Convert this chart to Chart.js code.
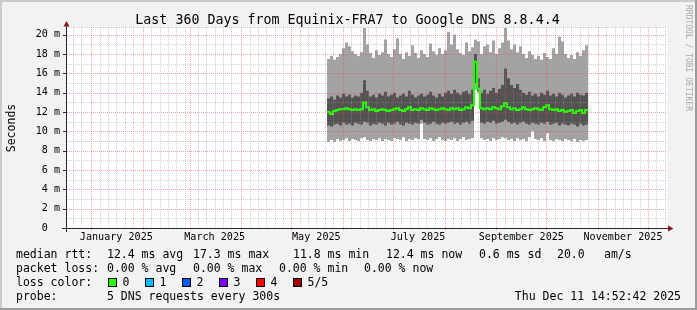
<!DOCTYPE html>
<html>
<head>
<meta charset="utf-8">
<script src="https://cdn.jsdelivr.net/npm/chart.js@4.4.1/dist/chart.umd.min.js"></script>
<style>
  html, body { margin: 0; padding: 0; background: #f2f2f2; }
  canvas { display: block; }
</style>
</head>
<body>
<canvas id="smokeChart" width="697" height="310"></canvas>
<script>
// time is counted in days from 1 Jan 2025, one value per consolidated step
var firstStep = 141.4;
var stepDays = 1.8;

// sorted pings per step: min, 2nd, median, 4th, max (milliseconds)
var pingMin = [
  8.9, 9.1, 8.9, 9.2, 9.0, 9.1, 9.3, 9.0, 9.2, 9.1,
  9.0, 9.3, 9.4, 9.1, 9.0, 9.2, 9.1, 9.3, 9.0, 9.2,
  9.1, 9.0, 9.3, 9.2, 9.1, 9.4, 9.0, 9.2, 9.1, 9.3,
  9.2, 10.8, 9.2, 9.1, 9.3, 9.0, 9.2, 9.4, 9.1, 9.0,
  9.2, 9.1, 9.3, 9.0, 9.2, 9.4, 9.1, 9.2, 9.3, 14.3,
  14.0, 9.3, 9.1, 9.2, 9.0, 9.3, 9.1, 9.2, 9.4, 9.3,
  9.1, 9.2, 9.0, 9.3, 9.1, 9.2, 9.0, 9.4, 10.0, 9.2,
  9.1, 9.3, 9.0, 9.8, 9.1, 9.0, 9.2, 9.1, 9.0, 9.2,
  9.1, 9.0, 9.2, 8.9, 9.1, 9.0, 9.1
];
var pingLow = [
  10.6, 10.5, 10.7, 10.8, 10.6, 10.9, 10.7, 10.8, 10.6, 10.9,
  10.8, 10.7, 11.0, 10.9, 10.6, 10.8, 10.7, 10.9, 10.8, 10.6,
  10.9, 10.7, 10.8, 11.0, 10.7, 10.6, 10.9, 10.8, 10.7, 10.9,
  10.8, 11.2, 10.9, 10.7, 10.8, 11.0, 10.8, 10.7, 10.9, 10.8,
  10.9, 11.0, 10.8, 10.9, 10.7, 10.9, 11.0, 10.8, 11.1, 15.0,
  14.2, 10.9, 10.8, 11.0, 10.9, 11.1, 10.8, 10.9, 11.0, 11.2,
  11.0, 10.8, 10.9, 10.7, 10.9, 11.0, 10.8, 10.7, 10.9, 10.8,
  10.7, 10.9, 10.8, 11.0, 10.7, 10.8, 10.9, 10.6, 10.8, 10.7,
  10.6, 10.8, 10.7, 10.5, 10.8, 10.6, 10.7
];
var medianRtt = [
  12.0, 11.8, 12.1, 12.2, 12.3, 12.3, 12.4, 12.3, 12.2, 12.3,
  12.2, 12.3, 13.0, 12.5, 12.2, 12.3, 12.1, 12.2, 12.3, 12.2,
  12.1, 12.2, 12.3, 12.4, 12.2, 12.1, 12.3, 12.5, 12.2, 12.3,
  12.2, 12.4, 12.3, 12.2, 12.4, 12.3, 12.2, 12.3, 12.4, 12.3,
  12.2, 12.4, 12.3, 12.4, 12.2, 12.3, 12.5, 12.4, 12.7, 17.2,
  14.4, 12.4, 12.3, 12.4, 12.3, 12.5, 12.4, 12.3, 12.6, 12.9,
  12.5, 12.3, 12.4, 12.2, 12.3, 12.5, 12.3, 12.2, 12.3, 12.4,
  12.3, 12.2, 12.5, 12.7, 12.3, 12.2, 12.3, 12.1, 12.2, 12.0,
  12.1, 12.2, 11.9, 12.1, 12.2, 11.9, 12.2
];
var pingHigh = [
  13.4, 13.6, 13.3, 13.7, 13.5, 13.9, 13.6, 13.8, 13.5, 13.7,
  13.6, 14.0, 15.3, 14.2, 13.6, 13.8, 13.5, 13.9, 13.7, 14.1,
  13.6, 13.8, 14.0, 13.5, 13.7, 13.9, 13.6, 14.2, 13.8, 13.5,
  13.7, 13.9, 13.6, 13.8, 14.1, 13.7, 13.5, 13.9, 13.6, 14.0,
  14.2, 13.9, 14.3, 14.0, 13.8, 14.1, 14.2, 13.9, 14.3, 18.0,
  15.5, 14.0, 14.3, 13.9, 14.2, 14.5, 14.0, 14.4, 14.8, 16.5,
  15.5, 14.8, 14.5, 14.9, 14.3, 14.0, 13.8, 14.1, 13.7, 13.9,
  13.6, 14.0, 13.8, 14.2, 13.7, 13.9, 13.6, 14.0, 13.8, 13.5,
  13.7, 13.9, 13.6, 14.0, 13.8, 13.7, 14.0
];
var pingMax = [
  17.5, 17.8, 17.4, 17.7, 18.0, 18.6, 19.2, 18.8, 18.3, 18.0,
  17.8, 18.2, 20.7, 19.0, 18.1, 17.6, 18.4, 17.9, 18.2, 19.5,
  18.0, 17.7, 18.5, 19.6, 18.0, 17.5, 18.2, 17.8, 18.9, 18.1,
  17.6, 18.4, 18.0, 17.7, 19.1, 18.3, 17.9, 18.6, 18.0, 18.4,
  20.3, 19.0, 20.0, 18.5, 18.1, 17.9, 19.2, 18.3, 18.7, 19.5,
  19.3, 18.0, 18.8, 19.0, 18.2, 19.4, 18.0, 18.6, 19.2, 20.7,
  19.4, 18.5, 19.0, 18.2, 18.8, 18.0, 17.6, 18.3, 17.9, 17.5,
  17.8, 17.4, 18.1, 17.7, 17.5, 18.6, 18.0, 19.8, 19.3, 18.0,
  17.6, 17.9, 17.5, 18.2, 17.8, 18.4, 18.9
];

// axes
var monthStarts = [-31, 0, 31, 59, 90, 120, 151, 181, 212, 243, 273, 304, 334];
var monthLabels = ["January 2025", "March 2025", "May 2025", "July 2025", "September 2025", "November 2025"];
var labelDays = [15, 74, 135, 196, 258, 319];
var yTicks = [0, 2, 4, 6, 8, 10, 12, 14, 16, 18, 20];
var yTickLabels = ["0  ", "2 m", "4 m", "6 m", "8 m", "10 m", "12 m", "14 m", "16 m", "18 m", "20 m"];

var titleText = "Last 360 Days from Equinix-FRA7 to Google DNS 8.8.4.4";
var lossColors = ["#26ff00", "#00b8ff", "#0059ff", "#7e00ff", "#ff0000", "#a10000"];
var lossNames = ["0", "1", "2", "3", "4", "5/5"];

var mono = "'DejaVu Sans Mono', monospace";

function toPoints(values) {
  var pts = values.map(function (v, i) {
    return { x: firstStep + i * stepDays, y: v };
  });
  // close the last step
  pts.push({ x: firstStep + values.length * stepDays, y: values[values.length - 1] });
  return pts;
}

function band(label, values, color, fillTo, order) {
  return {
    label: label,
    data: toPoints(values),
    borderColor: "rgba(0,0,0,0)",
    borderWidth: 0,
    backgroundColor: color,
    pointRadius: 0,
    stepped: true,
    fill: fillTo,
    order: order
  };
}

var smokeFrame = {
  id: "smokeFrame",
  beforeDraw: function (chart) {
    var ctx = chart.ctx, a = chart.chartArea;
    ctx.save();
    ctx.fillStyle = "#f2f2f2";
    ctx.fillRect(0, 0, 697, 310);
    ctx.fillStyle = "#cbcbcb";
    ctx.fillRect(0, 0, 697, 2);
    ctx.fillRect(0, 0, 2, 310);
    ctx.fillStyle = "#9c9c9c";
    ctx.fillRect(0, 308, 697, 2);
    ctx.fillRect(695, 0, 2, 310);
    ctx.fillStyle = "#ffffff";
    ctx.fillRect(a.left, a.top, a.right - a.left, a.bottom - a.top);
    ctx.restore();
  },
  afterDatasetsDraw: function (chart) {
    var ctx = chart.ctx, a = chart.chartArea;
    var xs = chart.scales.x, ys = chart.scales.y;
    ctx.save();
    ctx.lineWidth = 1;
    ctx.setLineDash([1, 1]);

    // minor grid
    ctx.strokeStyle = "rgba(150,150,150,0.45)";
    ctx.beginPath();
    monthStarts.forEach(function (m) {
      for (var k = 5; k <= 25; k += 5) {
        var d = m + k;
        if (d <= xs.min || d >= xs.max) continue;
        var px = Math.round(xs.getPixelForValue(d)) + 0.5;
        ctx.moveTo(px, a.top);
        ctx.lineTo(px, a.bottom);
      }
    });
    for (var v = 1; v < 21; v += 2) {
      var py = Math.round(ys.getPixelForValue(v)) + 0.5;
      ctx.moveTo(a.left, py);
      ctx.lineTo(a.right, py);
    }
    ctx.moveTo(a.left, a.top + 0.5);
    ctx.lineTo(a.right, a.top + 0.5);
    ctx.stroke();

    // major grid
    ctx.strokeStyle = "rgba(235,60,60,0.45)";
    ctx.beginPath();
    monthStarts.forEach(function (m) {
      if (m <= xs.min || m >= xs.max) return;
      var px = Math.round(xs.getPixelForValue(m)) + 0.5;
      ctx.moveTo(px, a.top);
      ctx.lineTo(px, a.bottom + 3);
    });
    yTicks.forEach(function (t) {
      if (t === 0) return;
      var py = Math.round(ys.getPixelForValue(t)) + 0.5;
      ctx.moveTo(a.left, py);
      ctx.lineTo(a.right, py);
    });
    ctx.stroke();

    // axes
    ctx.setLineDash([]);
    ctx.strokeStyle = "#2a2a2a";
    ctx.beginPath();
    ctx.moveTo(62, a.bottom + 0.5);
    ctx.lineTo(669, a.bottom + 0.5);
    ctx.moveTo(66.5, a.bottom + 4);
    ctx.lineTo(66.5, 24);
    yTicks.forEach(function (t) {
      var py = Math.round(ys.getPixelForValue(t)) + 0.5;
      ctx.moveTo(63, py);
      ctx.lineTo(66, py);
    });
    ctx.stroke();

    ctx.fillStyle = "#8b1414";
    ctx.beginPath();
    ctx.moveTo(668, a.bottom - 2.5);
    ctx.lineTo(668, a.bottom + 3.5);
    ctx.lineTo(673.5, a.bottom + 0.5);
    ctx.closePath();
    ctx.fill();
    ctx.beginPath();
    ctx.moveTo(63.5, 26.5);
    ctx.lineTo(69.5, 26.5);
    ctx.lineTo(66.5, 21);
    ctx.closePath();
    ctx.fill();
    ctx.restore();
  },
  afterDraw: function (chart) {
    var ctx = chart.ctx;
    ctx.save();
    ctx.fillStyle = "#000000";
    ctx.textBaseline = "alphabetic";

    ctx.font = "13.3px " + mono;
    ctx.textAlign = "center";
    ctx.fillText(titleText, 347.5, 24);

    ctx.font = "11.5px " + mono;
    ctx.save();
    ctx.translate(14.5, 128);
    ctx.rotate(-Math.PI / 2);
    ctx.fillText("Seconds", 0, 0);
    ctx.restore();

    ctx.textAlign = "left";
    var rows = [
      [[16, "median rtt:"], [107, "12.4 ms avg"], [193, "17.3 ms max"], [293, "11.8 ms min"],
       [386, "12.4 ms now"], [479, "0.6 ms sd"], [557, "20.0"], [604, "am/s"]],
      [[16, "packet loss:"], [107, "0.00 % avg"], [193, "0.00 % max"], [279, "0.00 % min"], [364, "0.00 % now"]],
      [[16, "loss color:"]],
      [[16, "probe:"], [107, "5 DNS requests every 300s"]]
    ];
    rows.forEach(function (row, r) {
      row.forEach(function (item) {
        ctx.fillText(item[1], item[0], 258 + r * 14);
      });
    });

    var boxX = [108, 145, 182, 219, 256, 293];
    lossColors.forEach(function (c, i) {
      ctx.fillStyle = c;
      ctx.fillRect(boxX[i], 278, 8, 8);
      ctx.strokeStyle = "#000000";
      ctx.lineWidth = 1;
      ctx.strokeRect(boxX[i] + 0.5, 278.5, 8, 8);
      ctx.fillStyle = "#000000";
      ctx.fillText(lossNames[i], boxX[i] + 14.5, 286);
    });

    ctx.textAlign = "right";
    ctx.fillText("Thu Dec 11 14:52:42 2025", 681, 300);

    ctx.fillStyle = "#a8a8a8";
    ctx.font = "8px " + mono;
    ctx.textAlign = "left";
    ctx.textBaseline = "middle";
    ctx.translate(688, 5);
    ctx.rotate(Math.PI / 2);
    ctx.fillText("RRDTOOL / TOBI OETIKER", 0, 0);
    ctx.restore();
  }
};

var chartData = {
  type: "line",
  data: {
    datasets: [
      band("min", pingMin, "rgba(0,0,0,0)", false, 11),
      band("max", pingMax, "#a3a3a3", 0, 10),
      band("low", pingLow, "rgba(0,0,0,0)", false, 6),
      band("high", pingHigh, "#535353", 2, 5),
      {
        label: "median rtt",
        data: toPoints(medianRtt),
        borderColor: lossColors[0],
        borderWidth: 2,
        pointRadius: 0,
        stepped: true,
        fill: false,
        order: 0
      }
    ]
  },
  options: {
    responsive: false,
    devicePixelRatio: 1,
    animation: false,
    layout: { padding: { top: 27, right: 30, bottom: 0, left: 0 } },
    plugins: { legend: { display: false }, tooltip: { enabled: false }, title: { display: false } },
    scales: {
      x: {
        type: "linear",
        min: -14.6,
        max: 345.4,
        grid: { display: false, drawTicks: false },
        border: { display: false },
        afterBuildTicks: function (s) {
          s.ticks = labelDays.map(function (d) { return { value: d }; });
        },
        afterFit: function (s) { s.height = 82; },
        ticks: {
          autoSkip: false,
          maxRotation: 0,
          padding: 3,
          color: "#000000",
          font: { family: mono, size: 10.1 },
          callback: function (v) {
            var k = labelDays.indexOf(v);
            return k < 0 ? "" : monthLabels[k];
          }
        }
      },
      y: {
        min: 0,
        max: 20.8,
        grid: { display: false, drawTicks: false },
        border: { display: false },
        afterBuildTicks: function (s) {
          s.ticks = yTicks.map(function (t) { return { value: t }; });
        },
        afterFit: function (s) { s.width = 67; },
        ticks: {
          padding: 7,
          color: "#000000",
          font: { family: mono, size: 10.1 },
          callback: function (v) {
            var k = yTicks.indexOf(v);
            return k < 0 ? "" : yTickLabels[k];
          }
        }
      }
    }
  },
  plugins: [smokeFrame]
};

var ctx = document.getElementById("smokeChart").getContext("2d");
var smokeChart = new Chart(ctx, chartData);
</script>
</body>
</html>
